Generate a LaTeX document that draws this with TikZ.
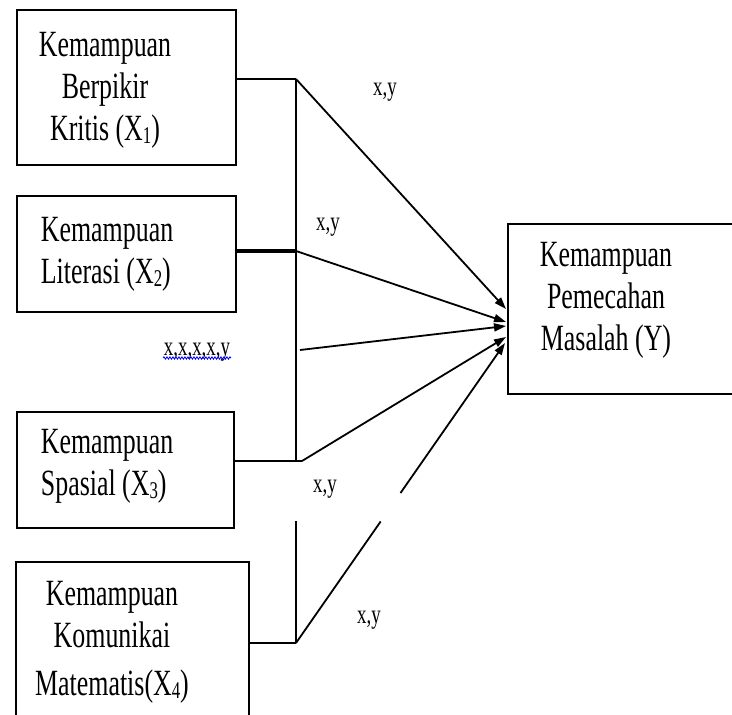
\documentclass[tikz,border=0pt]{standalone}
\usepackage{fontspec}
\setmainfont{Liberation Serif}[FakeStretch=0.7]
\usetikzlibrary{arrows.meta,decorations.pathmorphing,calc}
\newcommand{\mysub}[1]{\raisebox{-3pt}{\fontsize{24}{24}\selectfont #1}}
\begin{document}
\begin{tikzpicture}[x=1pt,y=-1pt,line width=1.8pt,
  box/.style={draw,line width=1.8pt,inner sep=0pt,anchor=north west},
  txt/.style={font=\fontsize{37}{42}\selectfont,inner sep=0pt,anchor=base},
  lbl/.style={font=\fontsize{27}{30}\selectfont,inner sep=0pt,anchor=base},
  conn/.style={line width=1.8pt},
  arr/.style={line width=1.8pt,-{Triangle[length=12pt,width=8pt]}}]
\useasboundingbox (0,0) rectangle (732,715);
\clip (0,0) rectangle (732,715);
% boxes
\node[box,minimum width=219pt,minimum height=155pt] (b1) at (16,9) {};
\node[box,minimum width=219pt,minimum height=116pt] (b2) at (16,195) {};
\node[box,minimum width=217pt,minimum height=116pt] (b3) at (16,411) {};
\node[box,minimum width=233pt,minimum height=180pt] (b4) at (15,561) {};
\node[box,minimum width=250pt,minimum height=170pt] (Y) at (507,223) {};
% texts (anchored at the baseline of the last line)
\node[txt,align=center] (t1) at (105,140) {Kemampuan\\Berpikir\\Kritis (X\mysub{1})};
\node[txt,align=left,anchor=base west] (t2) at (40,283) {Kemampuan\\Literasi (X\mysub{2})};
\node[txt,align=left,anchor=base west] (t3) at (40,495) {Kemampuan\\ Spasial (X\mysub{3})};
\node[txt,align=center] (t4) at (112,695) {Kemampuan\\Komunikai\\[6pt]Matematis(X\mysub{4})};
\node[txt,align=center] (tY) at (606,350) {Kemampuan\\Pemecahan\\Masalah (Y)};
% trunk
\coordinate (j1) at (296,79);
\coordinate (j2) at (296,251);
\coordinate (j3) at (296,461);
\coordinate (k1) at (296,521);
\coordinate (j4) at (296,643);
\coordinate (s3) at (300,350);
\coordinate (s4) at (302,461);
\draw[conn] (j1) -- (j3);
\draw[conn] (k1) -- (j4);
\draw[conn] (b1.east |- j1) -- (j1);
\draw[line width=3.5pt] (b2.east |- j2) -- (j2);
\draw[conn] (b3.east |- j3) -- (s4);
\draw[conn] (b4.east |- j4) -- (j4);
% tips
\coordinate (p1) at ($(Y.north west)+(-1,86)$);
\coordinate (p2) at ($(Y.north west)+(-1,99)$);
\coordinate (p3) at ($(Y.north west)+(-1,103)$);
\coordinate (p4) at ($(Y.north west)+(-1,114)$);
\coordinate (p5) at ($(Y.north west)+(-2,120)$);
\coordinate (g1) at ($(j4)!0.405!(p5)$);
\coordinate (g2) at ($(j4)!0.5!(p5)$);
\draw[arr] (j1) -- (p1);
\draw[arr] (j2) -- (p2);
\draw[arr] (s3) -- (p3);
\draw[arr] (s4) -- (p4);
\draw[conn] (j4) -- (g1);
\draw[arr] (g2) -- (p5);
% labels
\node[lbl] (l1) at (385,95) {x,y};
\node[lbl] (l2) at (328,230) {x,y};
\node[lbl] (l3) at (197,355) {x,x,x,x,y};
\node[lbl] (l4) at (325,492) {x,y};
\node[lbl] (l5) at (369,623) {x,y};
\draw[blue,line width=0.8pt,decorate,decoration={snake,amplitude=1.2pt,segment length=3pt}]
  ($(l3.base west)+(0,3)$) -- ($(l3.base east)+(0,3)$);
\end{tikzpicture}
\end{document}
